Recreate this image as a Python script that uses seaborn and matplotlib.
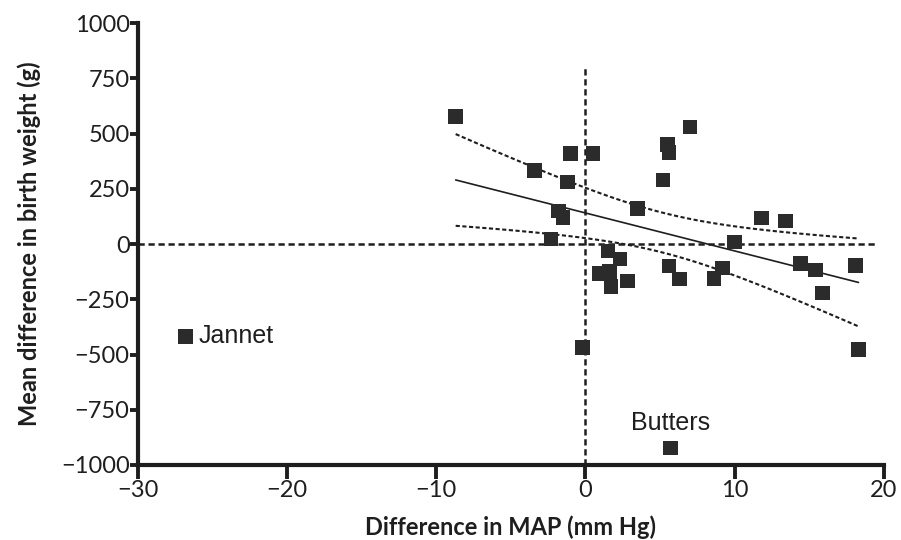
import numpy as np
import pandas as pd
import matplotlib
matplotlib.use("Agg")
import matplotlib.pyplot as plt
import seaborn as sns


# ======================================================
# Data
# ======================================================
map_diff = [-8.7, -3.4, -1.0, 0.5, -1.2, -1.8, -1.5, -2.3, 3.5, 5.5,
            5.6, 5.2, 7.0, 1.5, 2.3, 0.9, 1.6, 1.7, 2.8, 5.6,
            6.3, 11.8, 13.4, 10.0, 9.2, 8.6, 14.4, 15.4, 15.9, 18.1,
            18.3, -0.2]
bw_diff = [577, 332, 409, 409, 282, 150, 120, 23, 160, 450,
           415, 290, 530, -32, -68, -132, -123, -191, -168, -100,
           -159, 118, 105, 9, -109, -155, -88, -118, -222, -97,
           -478, -468]

outlier_names = ["Jannet", "Butters"]
outlier_map = [-26.8, 5.7]
outlier_bw = [-418, -923]

df = pd.DataFrame({"map": map_diff, "bw": bw_diff})
df_out = pd.DataFrame({"name": outlier_names, "map": outlier_map, "bw": outlier_bw})


# ======================================================
# Linear fit with 95% confidence band
# ======================================================
x = df["map"].to_numpy(float)
y = df["bw"].to_numpy(float)
n = len(x)
slope, intercept = np.polyfit(x, y, 1)
resid = y - (slope * x + intercept)
s = np.sqrt(np.sum(resid**2) / (n - 2))
sxx = np.sum((x - x.mean())**2)
t_crit = 2.04

xf = np.linspace(x.min(), x.max(), 100)
yf = slope * xf + intercept
half = t_crit * s * np.sqrt(1 / n + (xf - x.mean())**2 / sxx)


# ======================================================
# Plot
# ======================================================
sns.set_style("ticks")
plt.rcParams["font.family"] = ["Lato", "DejaVu Sans"]

fig = plt.figure(figsize=(9.01, 5.40), dpi=100)
ax = fig.add_axes([0.153, 0.139, 0.828, 0.818])

ink = "#1e1e1e"

# reference lines
ax.axhline(0, xmax=0.99, color=ink, lw=1.8, ls=(0, (2.5, 1.5)), zorder=1)
ax.plot([0, 0], [-1000, 800], color=ink, lw=1.8, ls=(0, (2.5, 1.5)), zorder=1)

# fit and confidence band
ax.plot(xf, yf, color=ink, lw=1.2, zorder=2)
ax.plot(xf, yf + half, color=ink, lw=1.5, ls=(0, (2, 1.2)), zorder=2)
ax.plot(xf, yf - half, color=ink, lw=1.5, ls=(0, (2, 1.2)), zorder=2)

sns.scatterplot(data=df, x="map", y="bw", marker="s", s=110,
                color="#2b2b2b", edgecolor="none", ax=ax, zorder=3)
sns.scatterplot(data=df_out, x="map", y="bw", marker="s", s=110,
                color="#2b2b2b", edgecolor="none", ax=ax, zorder=3)

# labels for the two named points
jan = df_out[df_out["name"] == "Jannet"].iloc[0]
ax.text(jan["map"] + 0.9, jan["bw"], "Jannet", fontsize=18,
        family=["Liberation Sans", "DejaVu Sans"], va="center", ha="left", color=ink)
but = df_out[df_out["name"] == "Butters"].iloc[0]
ax.text(but["map"], but["bw"] + 60, "Butters", fontsize=18,
        family=["Liberation Sans", "DejaVu Sans"], va="bottom", ha="center", color=ink)

ax.set_xlim(-30, 20)
ax.set_ylim(-1000, 1000)
ax.set_xticks([-30, -20, -10, 0, 10, 20])
ax.set_xticklabels(["\u221230", "\u221220", "\u221210", "0", "10", "20"])
ax.set_yticks([-1000, -750, -500, -250, 0, 250, 500, 750, 1000])
ax.set_yticklabels(["\u22121000", "\u2212750", "\u2212500", "\u2212250", "0",
                    "250", "500", "750", "1000"])

ax.tick_params(axis="both", labelsize=17, width=2.8, length=6,
               color=ink, labelcolor=ink, pad=0)
ax.tick_params(axis="x", length=10, pad=1)

for side in ["left", "bottom"]:
    ax.spines[side].set_linewidth(3.0)
    ax.spines[side].set_color(ink)
sns.despine(ax=ax)

ax.set_xlabel("Difference in MAP (mm Hg)", fontsize=17, fontweight="bold",
              color=ink, labelpad=10)
ax.set_ylabel("Mean difference in birth weight (g)", fontsize=17,
              fontweight="bold", color=ink, labelpad=14)

fig.savefig("out.png", dpi=100)
